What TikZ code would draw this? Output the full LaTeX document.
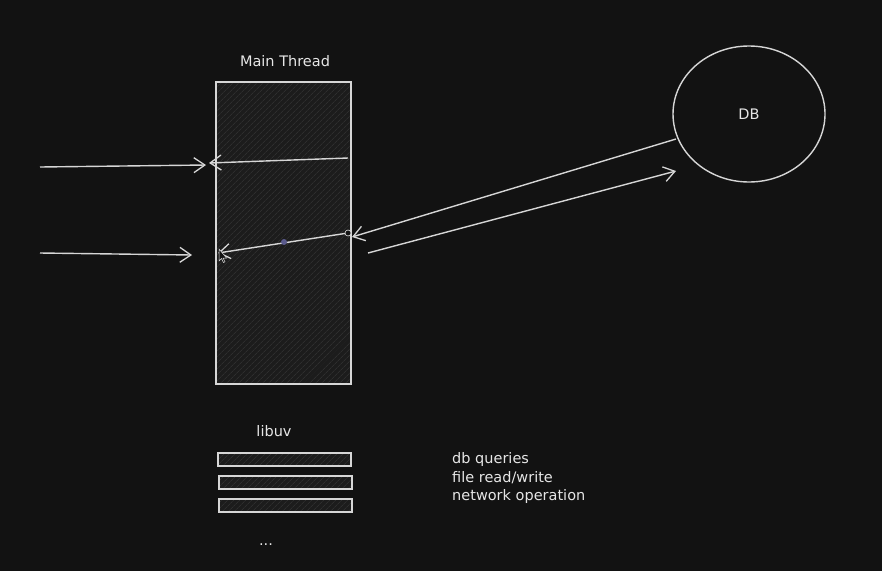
\documentclass[tikz,border=0pt]{standalone}
\usepackage{fontspec}
\setmainfont{DejaVu Sans}
\usetikzlibrary{arrows.meta,patterns.meta,shapes.geometric}
\definecolor{bg}{HTML}{121212}
\definecolor{ink}{HTML}{D6D6D6}
\definecolor{txt}{HTML}{E6E6E6}
\definecolor{boxfill}{HTML}{1C1C1C}
\definecolor{hatch}{HTML}{383838}
\definecolor{dotc}{HTML}{5A5A8C}
\tikzset{
  sketch/.style={draw=ink, line width=1.4pt},
  hatched/.style={sketch, preaction={fill=boxfill},
    pattern={Lines[angle=45,distance=4pt,line width=0.6pt]}, pattern color=hatch},
  arr/.style={draw=ink, line width=1.4pt, -{Straight Barb[length=11pt,width=15pt,line width=1.3pt]}},
  lbl/.style={text=txt, font=\fontsize{14.5}{17}\selectfont, inner sep=0pt},
}
\begin{document}
\begin{tikzpicture}[x=1pt,y=-1pt]
\fill[bg] (0,0) rectangle (882,571);
\useasboundingbox (0,0) rectangle (882,571);

% main thread
\node[hatched, minimum width=135pt, minimum height=302pt, inner sep=0pt] (main) at (283.5,233) {};
\node[lbl] (mainlbl) at (285,61) {Main Thread};

% DB
\node[sketch, ellipse, minimum width=152pt, minimum height=136pt, inner sep=0pt] (db) at (749,114) {};
\node[lbl] (dblbl) at (749,114) {DB};

% coordinates
\coordinate (a1s) at (40,167);
\coordinate (a1e) at (206,165);
\coordinate (a2s) at (348,158);
\coordinate (a2e) at (209,163);
\coordinate (a3s) at (40,253);
\coordinate (a3e) at (192,255);
\coordinate (a4s) at (348,233);
\coordinate (a4e) at (218,253);
\coordinate (a5s) at (676,139);
\coordinate (a5e) at (352,237);
\coordinate (a6s) at (368,253);
\coordinate (a6e) at (676,171);

\draw[arr] (a1s) -- (a1e);
\draw[arr] (a2s) -- (a2e);
\draw[arr] (a3s) -- (a3e);
\draw[arr] (a4s) -- (a4e);
\draw[arr] (a5s) -- (a5e);
\draw[arr] (a6s) -- (a6e);

\node[circle, fill=dotc, minimum size=6pt, inner sep=0pt] (mid) at (284,242) {};
\node[circle, draw=ink!60, fill=bg, line width=0.6pt, minimum size=6pt, inner sep=0pt] (hnd) at (348,233) {};

% cursor
\draw[fill=bg, draw=ink!80, line width=0.5pt] (219,249) -- (219,261) -- (221.5,258.5) -- (223.5,262.5) -- (225,261.8) -- (223,258) -- (226.5,258) -- cycle;

% libuv
\node[lbl] (libuv) at (274,431) {libuv};
\node[hatched, minimum width=133pt, minimum height=13pt, inner sep=0pt] (bar1) at (284.5,459.5) {};
\node[hatched, minimum width=133pt, minimum height=13pt, inner sep=0pt] (bar2) at (285.5,482.5) {};
\node[hatched, minimum width=133pt, minimum height=13pt, inner sep=0pt] (bar3) at (285.5,505.5) {};
\node[lbl] (dots) at (266,545) {...};

\node[lbl, anchor=west] (t1) at (452,459) {db queries};
\node[lbl, anchor=west] (t2) at (452,477.5) {file read/write};
\node[lbl, anchor=west] (t3) at (452,496) {network operation};
\end{tikzpicture}
\end{document}
